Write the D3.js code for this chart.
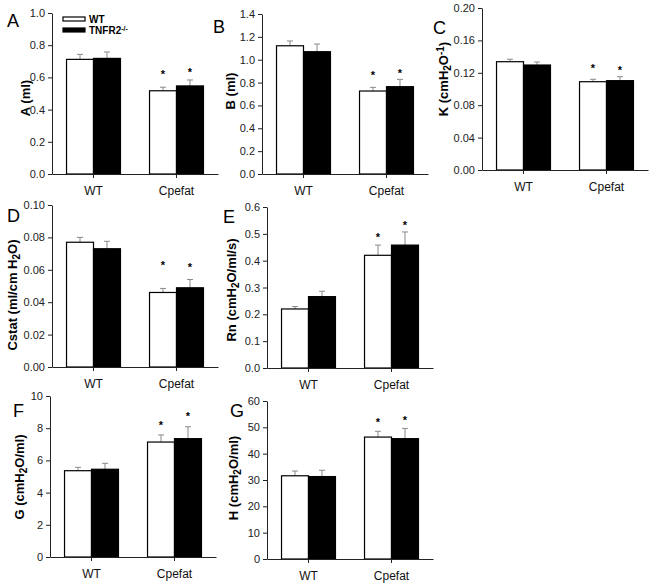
<!DOCTYPE html>
<html><head><meta charset="utf-8">
<script src="https://cdn.jsdelivr.net/npm/d3@7/dist/d3.min.js"></script>
<style>
body{margin:0;background:#fff;}
svg{display:block;font-family:"Liberation Sans",Arial,sans-serif;}
</style></head>
<body>
<svg id="chart" width="654" height="587"></svg>
<script>
// ---------- DATA ----------
const categories = ["WT", "Cpefat"];
const seriesNames = ["WT", "TNFR2"];

// Panel A: A (ml)
const aWT = [0.712, 0.517], aWTErr = [0.031, 0.022];
const aKO = [0.718, 0.547], aKOErr = [0.040, 0.037];
const aStar = [null, null, 0.642, 0.652];
const aTicks = [0, 0.2, 0.4, 0.6, 0.8, 1.0];
// Panel B: B (ml)
const bWT = [1.122, 0.726], bWTErr = [0.042, 0.032];
const bKO = [1.070, 0.764], bKOErr = [0.067, 0.064];
const bStar = [null, null, 0.895, 0.910];
const bTicks = [0, 0.2, 0.4, 0.6, 0.8, 1.0, 1.2, 1.4];
// Panel C: K
const cWT = [0.1337, 0.1090], cWTErr = [0.0030, 0.0030];
const cKO = [0.1296, 0.1103], cKOErr = [0.0037, 0.0049];
const cStar = [null, null, 0.1296, 0.1268];
const cTicks = [0, 0.04, 0.08, 0.12, 0.16, 0.20];
// Panel D: Cstat
const dWT = [0.0770, 0.0460], dWTErr = [0.0030, 0.0025];
const dKO = [0.0730, 0.0489], dKOErr = [0.0046, 0.0051];
const dStar = [null, null, 0.0650, 0.0634];
const dTicks = [0, 0.02, 0.04, 0.06, 0.08, 0.10];
// Panel E: Rn
const eWT = [0.220, 0.420], eWTErr = [0.009, 0.038];
const eKO = [0.266, 0.458], eKOErr = [0.020, 0.049];
const eStar = [null, null, 0.498, 0.545];
const eTicks = [0, 0.1, 0.2, 0.3, 0.4, 0.5, 0.6];
// Panel F: G
const fWT = [5.36, 7.14], fWTErr = [0.21, 0.44];
const fKO = [5.45, 7.35], fKOErr = [0.37, 0.74];
const fStar = [null, null, 8.4, 8.96];
const fTicks = [0, 2, 4, 6, 8, 10];
// Panel G: H
const gWT = [31.6, 46.3], gWTErr = [1.8, 2.2];
const gKO = [31.3, 45.7], gKOErr = [2.4, 3.9];
const gStar = [null, null, 53.1, 53.8];
const gTicks = [0, 10, 20, 30, 40, 50, 60];

// ---------- PANEL DEFINITIONS ----------
const panels = [
  {letter:"A", title:[["A (ml)"]], wt:aWT, wtE:aWTErr, ko:aKO, koE:aKOErr, star:aStar, ticks:aTicks, fmt:".1f",
   L:{ax:52, top:13, bottom:174, lx:7, ly:27, tx:30, ty:98}, legend:true},
  {letter:"B", title:[["B (ml)"]], wt:bWT, wtE:bWTErr, ko:bKO, koE:bKOErr, star:bStar, ticks:bTicks, fmt:".1f",
   L:{ax:262, top:14, bottom:174, lx:213, ly:33, tx:235, ty:91}},
  {letter:"C", title:[["K (cmH"],["2","sub"],["O"],["-1","sup"],[")"]], wt:cWT, wtE:cWTErr, ko:cKO, koE:cKOErr, star:cStar, ticks:cTicks, fmt:".2f",
   L:{ax:482, top:8, bottom:170, lx:433, ly:34, tx:448, ty:79}},
  {letter:"D", title:[["Cstat (ml/cm H"],["2","sub"],["O)"]], wt:dWT, wtE:dWTErr, ko:dKO, koE:dKOErr, star:dStar, ticks:dTicks, fmt:".2f",
   L:{ax:52, top:205, bottom:367, lx:7, ly:222, tx:17, ty:295}},
  {letter:"E", title:[["Rn (cmH"],["2","sub"],["O/ml/s)"]], wt:eWT, wtE:eWTErr, ko:eKO, koE:eKOErr, star:eStar, ticks:eTicks, fmt:".1f",
   L:{ax:267, top:207, bottom:368, lx:223, ly:223, tx:236, ty:290}},
  {letter:"F", title:[["G (cmH"],["2","sub"],["O/ml)"]], wt:fWT, wtE:fWTErr, ko:fKO, koE:fKOErr, star:fStar, ticks:fTicks, fmt:"d",
   L:{ax:50, top:396, bottom:557, lx:13, ly:417, tx:24, ty:477}},
  {letter:"G", title:[["H (cmH"],["2","sub"],["O/ml)"]], wt:gWT, wtE:gWTErr, ko:gKO, koE:gKOErr, star:gStar, ticks:gTicks, fmt:"d",
   L:{ax:267, top:401, bottom:559, lx:230, ly:417, tx:238, ty:478}}
];

const svg = d3.select("#chart");
const W = 166;
const fills = ["#ffffff", "#000000"];
const axisColor = "#222";

panels.forEach(p => {
  const L = p.L;
  const g = svg.append("g");
  const x = d3.scaleBand().domain(categories).range([L.ax, L.ax + W]).paddingInner(0.35).paddingOuter(0.175);
  const xs = d3.scaleBand().domain(seriesNames).range([0, x.bandwidth()]).padding(0);
  const y = d3.scaleLinear().domain([p.ticks[0], p.ticks[p.ticks.length-1]]).range([L.bottom, L.top]);

  const rows = [];
  categories.forEach((c, ci) => {
    rows.push({cat:c, s:seriesNames[0], v:p.wt[ci], e:p.wtE[ci], star:p.star[ci*2]});
    rows.push({cat:c, s:seriesNames[1], v:p.ko[ci], e:p.koE[ci], star:p.star[ci*2+1]});
  });

  // error bars (drawn first, behind bars)
  const eg = g.append("g").attr("stroke", "#8a8a8a").attr("stroke-width", 1);
  rows.forEach(r => {
    const cx = x(r.cat) + xs(r.s) + xs.bandwidth()/2;
    eg.append("line").attr("x1", cx).attr("x2", cx).attr("y1", y(r.v)).attr("y2", y(r.v + r.e));
    eg.append("line").attr("x1", cx-3).attr("x2", cx+3).attr("y1", y(r.v + r.e)).attr("y2", y(r.v + r.e));
  });

  // bars
  g.append("g").selectAll("rect").data(rows).join("rect")
    .attr("x", d => x(d.cat) + xs(d.s))
    .attr("y", d => y(d.v))
    .attr("width", xs.bandwidth())
    .attr("height", d => y(0) - y(d.v))
    .attr("fill", d => fills[seriesNames.indexOf(d.s)])
    .attr("stroke", "#000").attr("stroke-width", 1.2);

  // stars
  g.append("g").selectAll("text").data(rows.filter(r => r.star != null)).join("text")
    .attr("x", d => x(d.cat) + xs(d.s) + xs.bandwidth()/2)
    .attr("y", d => y(d.star) + 7)
    .attr("text-anchor", "middle").attr("font-size", 11).attr("font-weight", "bold")
    .text("*");

  // y axis
  const ya = g.append("g").attr("transform", `translate(${L.ax},0)`)
    .call(d3.axisLeft(y).tickValues(p.ticks).tickFormat(d3.format(p.fmt)).tickSize(4).tickSizeOuter(0).tickPadding(3));
  ya.selectAll("text").attr("font-size", 11).attr("fill", "#222").attr("font-family", "Liberation Sans, Arial, sans-serif");
  ya.selectAll("line,path").attr("stroke", axisColor);

  // x axis
  const xa = g.append("g").attr("transform", `translate(0,${L.bottom})`)
    .call(d3.axisBottom(x).tickSize(4).tickSizeOuter(0).tickPadding(8));
  xa.selectAll("text").attr("font-size", 12).attr("fill", "#111").attr("font-family", "Liberation Sans, Arial, sans-serif");
  xa.selectAll("line,path").attr("stroke", axisColor);

  // panel letter
  g.append("text").attr("x", L.lx).attr("y", L.ly).attr("font-size", 18).text(p.letter);

  // y title
  const t = g.append("text").attr("transform", `translate(${L.tx},${L.ty}) rotate(-90)`)
    .attr("text-anchor", "middle").attr("font-size", 13).attr("font-weight", "bold");
  p.title.forEach(part => {
    const ts = t.append("tspan").text(part[0]);
    if (part[1] === "sub") ts.attr("baseline-shift", "-25%").attr("font-size", 10);
    if (part[1] === "sup") ts.attr("baseline-shift", "45%").attr("font-size", 10);
  });

  // legend
  if (p.legend) {
    const lg = g.append("g");
    seriesNames.forEach((s, i) => {
      lg.append("rect").attr("x", 63).attr("y", 17 + i*11).attr("width", 22).attr("height", 4)
        .attr("fill", fills[i]).attr("stroke", "#000").attr("stroke-width", 1.2);
      const tx = lg.append("text").attr("x", 89).attr("y", 23 + i*11).attr("font-size", 10).attr("font-weight", "bold");
      tx.append("tspan").text(s);
      if (i === 1) tx.append("tspan").attr("baseline-shift", "50%").attr("font-size", 7).text("-/-");
    });
  }
});
</script>
</body></html>
